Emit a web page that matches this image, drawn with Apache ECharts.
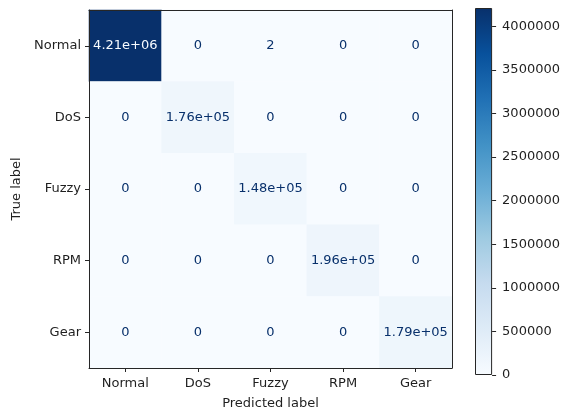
<!DOCTYPE html>
<html>
<head>
<meta charset="utf-8">
<script src="https://cdn.jsdelivr.net/npm/echarts@6/dist/echarts.min.js"></script>
<style>html,body{margin:0;padding:0;background:#fff}#c{width:563px;height:415px}</style>
</head>
<body>
<div id="c"></div>
<script>
var categories = ['Normal', 'DoS', 'Fuzzy', 'RPM', 'Gear'];
// rows = true label, columns = predicted label
var matrix = [
  [4210000, 0, 2, 0, 0],
  [0, 176000, 0, 0, 0],
  [0, 0, 148000, 0, 0],
  [0, 0, 0, 196000, 0],
  [0, 0, 0, 0, 179000]
];
var colorbarMax = 4210000;
var colorbarTicks = [0, 500000, 1000000, 1500000, 2000000, 2500000, 3000000, 3500000, 4000000];
var blues = ['#f7fbff', '#deebf7', '#c6dbef', '#9ecae1', '#6baed6', '#4292c6', '#2171b5', '#08519c', '#08306b'];

var font = 'DejaVu Sans';
var spine = '#262626';
var txt = '#1f1f1f';
var fs = 13;

function fmt(v) {
  if (Math.abs(v) < 1000) return String(v);
  var s = v.toExponential(2);
  return s.replace(/e([+-])(\d)$/, 'e$10$2');
}

var heatData = [];
for (var i = 0; i < matrix.length; i++) {
  for (var j = 0; j < matrix[i].length; j++) {
    var v = matrix[i][j];
    heatData.push(v > colorbarMax / 2
      ? { value: [j, i, v], label: { color: '#f7fbff' } }
      : [j, i, v]);
  }
}

var stops = blues.map(function (c, k) {
  return { offset: 1 - k / (blues.length - 1), color: c };
});

var chart = echarts.init(document.getElementById('c'), null, { renderer: 'canvas' });
chart.setOption({
  animation: false,
  backgroundColor: '#fff',
  textStyle: { fontFamily: font },
  grid: [
    { left: 89, top: 10, width: 363, height: 362, containLabel: false },
    { left: 475, top: 8, width: 19, height: 367, containLabel: false }
  ],
  visualMap: {
    show: false,
    type: 'continuous',
    min: 0,
    max: colorbarMax,
    seriesIndex: 0,
    inRange: { color: blues }
  },
  xAxis: [
    {
      type: 'category', data: categories, gridIndex: 0, position: 'bottom',
      name: 'Predicted label', nameLocation: 'middle', nameGap: 29,
      nameTextStyle: { fontFamily: font, fontSize: fs, color: txt },
      axisLine: { show: true, lineStyle: { color: spine, width: 1 } },
      axisTick: { show: true, alignWithLabel: true, length: 4, lineStyle: { color: spine } },
      axisLabel: { fontFamily: font, fontSize: fs, color: txt, margin: 9 },
      splitLine: { show: false }, z: 10
    },
    {
      type: 'category', data: categories, gridIndex: 0, position: 'top',
      axisLine: { show: true, lineStyle: { color: spine, width: 1 } },
      axisTick: { show: false }, axisLabel: { show: false }, splitLine: { show: false }, z: 10
    },
    {
      type: 'category', data: [''], gridIndex: 1,
      axisLine: { show: false }, axisTick: { show: false }, axisLabel: { show: false }
    }
  ],
  yAxis: [
    {
      type: 'category', data: categories, gridIndex: 0, inverse: true, position: 'left',
      name: 'True label', nameLocation: 'middle', nameGap: 64, nameRotate: 90,
      nameTextStyle: { fontFamily: font, fontSize: fs, color: txt },
      axisLine: { show: true, lineStyle: { color: spine, width: 1 } },
      axisTick: { show: true, alignWithLabel: true, length: 4, lineStyle: { color: spine } },
      axisLabel: { fontFamily: font, fontSize: fs, color: txt, margin: 8 },
      splitLine: { show: false }, z: 10
    },
    {
      type: 'category', data: categories, gridIndex: 0, inverse: true, position: 'right',
      axisLine: { show: true, lineStyle: { color: spine, width: 1 } },
      axisTick: { show: false }, axisLabel: { show: false }, splitLine: { show: false }, z: 10
    },
    {
      type: 'value', gridIndex: 1, position: 'right', min: 0, max: colorbarMax, interval: 500000,
      axisLine: { show: false },
      axisTick: { show: true, length: 4, lineStyle: { color: spine } },
      axisLabel: {
        fontFamily: font, fontSize: fs, color: txt, margin: 10,
        showMaxLabel: false,
        formatter: function (v) { return colorbarTicks.indexOf(v) >= 0 ? String(v) : ''; }
      },
      splitLine: { show: false }
    }
  ],
  series: [
    {
      type: 'heatmap', xAxisIndex: 0, yAxisIndex: 0, data: heatData,
      itemStyle: { borderWidth: 0 },
      label: {
        show: true, fontFamily: font, fontSize: fs,
        formatter: function (p) { return fmt(p.value[2]); },
        color: '#08306b'
      },
      emphasis: { disabled: true }
    },
    {
      type: 'bar', xAxisIndex: 2, yAxisIndex: 2, barWidth: '100%',
      data: [{
        value: colorbarMax,
        itemStyle: {
          color: new echarts.graphic.LinearGradient(0, 0, 0, 1, stops),
          borderColor: spine, borderWidth: 1
        }
      }],
      silent: true
    }
  ]
});
</script>
</body>
</html>
